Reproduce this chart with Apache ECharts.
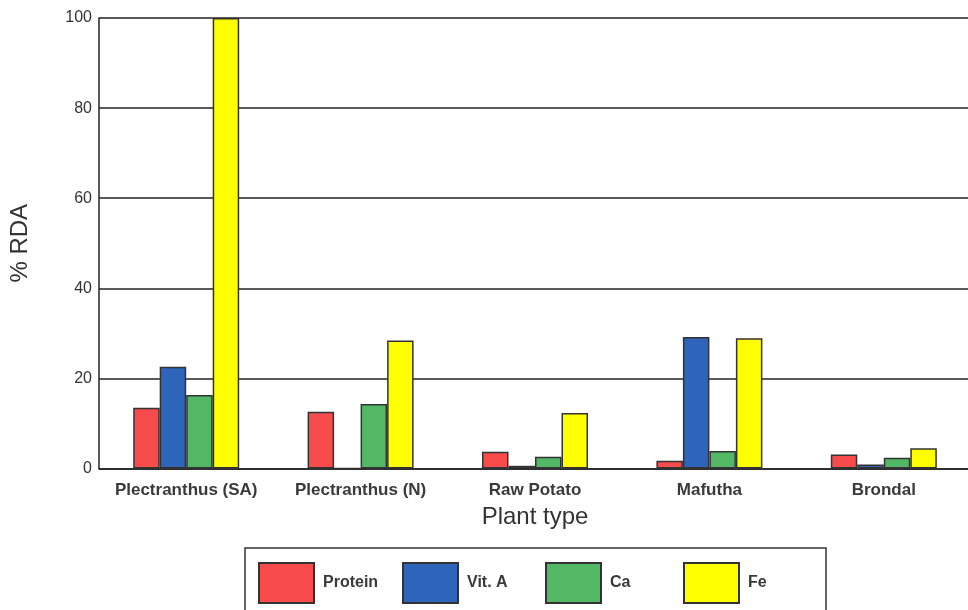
<!DOCTYPE html>
<html>
<head>
<meta charset="utf-8">
<script src="https://cdn.jsdelivr.net/npm/echarts@6/dist/echarts.min.js"></script>
<style>html,body{margin:0;padding:0;background:#fff;overflow:hidden;width:968px;height:610px}#c{width:971px;height:610px}</style>
</head>
<body>
<div id="c"></div>
<script>
var categories = ['Plectranthus (SA)', 'Plectranthus (N)', 'Raw Potato', 'Mafutha', 'Brondal'];
var protein = [13.5, 12.6, 3.7, 1.7, 3.1];
var vitA = [22.6, 0, 0.6, 29.2, 0.9];
var ca = [16.3, 14.3, 2.6, 3.9, 2.4];
var fe = [100, 28.4, 12.3, 28.9, 4.5];
var seriesNames = ['Protein', 'Vit. A', 'Ca', 'Fe'];
var yTicks = [0, 20, 40, 60, 80, 100];

var colors = ['#f74b4c', '#2e65bb', '#52b865', '#ffff00'];
var legendLefts = [258, 402, 545, 683];
var font = 'Liberation Sans, Arial, sans-serif';
var chart = echarts.init(document.getElementById('c'));
function mk(name, data, i) {
  return {
    name: name, type: 'bar', data: data,
    barWidth: 26.5, barGap: '0%',
    itemStyle: { color: colors[i], borderColor: '#333', borderWidth: 1.5 },
    emphasis: { disabled: true }
  };
}
var legends = seriesNames.map(function (n, i) {
  return {
    left: legendLefts[i], top: 562, padding: 0,
    itemWidth: 55, itemHeight: 40, itemGap: 0,
    icon: 'rect',
    selectedMode: false,
    textStyle: { fontFamily: font, fontSize: 16, fontWeight: 'bold', color: '#3a3a3a', padding: [0, 0, 0, 4] },
    data: [n]
  };
});
chart.setOption({
  animation: false,
  grid: { left: 96, top: 18, bottom: 141.5, right: 0 },
  graphic: [{
    type: 'rect', silent: true,
    shape: { x: 245, y: 548, width: 581, height: 90 },
    style: { fill: 'none', stroke: '#333', lineWidth: 1.5 }
  }],
  legend: legends,
  xAxis: {
    type: 'category', data: categories,
    name: 'Plant type', nameLocation: 'middle', nameGap: 37,
    nameTextStyle: { fontFamily: font, fontSize: 24, color: '#333' },
    axisLine: { lineStyle: { color: '#222', width: 1.5 } },
    axisTick: { inside: true, length: 7, lineStyle: { color: '#222', width: 1.5 } },
    axisLabel: { fontFamily: font, fontSize: 17, fontWeight: 'bold', color: '#3a3a3a', margin: 13, interval: 0 }
  },
  yAxis: {
    type: 'value', min: yTicks[0], max: yTicks[yTicks.length - 1], interval: 20,
    name: '% RDA', nameLocation: 'middle', nameGap: 67,
    nameTextStyle: { fontFamily: font, fontSize: 24, color: '#333' },
    axisLine: { show: true, lineStyle: { color: '#222', width: 1.5 } },
    axisTick: { show: false },
    splitLine: { lineStyle: { color: '#222', width: 1.5 } },
    axisLabel: { fontFamily: font, fontSize: 16, color: '#333', margin: 7 }
  },
  series: [mk(seriesNames[0], protein, 0), mk(seriesNames[1], vitA, 1), mk(seriesNames[2], ca, 2), mk(seriesNames[3], fe, 3)]
});
</script>
</body>
</html>
